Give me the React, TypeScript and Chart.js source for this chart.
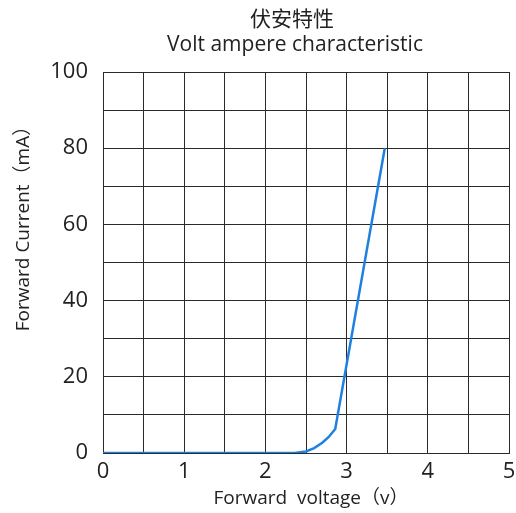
import React, { useEffect, useRef } from "react";
import { Chart, registerables } from "chart.js";

Chart.register(...registerables);

const titleLines = ["伏安特性", "Volt ampere characteristic"];
const xAxisTitle = "Forward  voltage（v）";
const yAxisTitle = "Forward Current（mA）";
const voltage = [0, 2.36, 2.5, 2.6, 2.7, 2.78, 2.86, 3.47];
const current = [0, 0, 0.4, 1.3, 2.7, 4.2, 6.3, 80];
const xTickValues = [0, 1, 2, 3, 4, 5];
const yTickValues = [0, 20, 40, 60, 80, 100];

const FONT = "'Open Sans', 'Noto Sans CJK SC', sans-serif";

const titlePlugin = {
  id: "textLabels",
  afterDraw(chart: any) {
    const ctx = chart.ctx;
    ctx.save();
    ctx.fillStyle = "#222";
    ctx.textAlign = "center";
    ctx.textBaseline = "middle";
    ctx.font = `21px 'Noto Sans CJK SC', sans-serif`;
    ctx.fillText(titleLines[0], 292, 18);
    ctx.font = `21px ${FONT}`;
    ctx.fillText(titleLines[1], 295, 45);
    ctx.font = `19px ${FONT}`;
    ctx.fillText(xAxisTitle, 311, 499);
    ctx.translate(24, 224);
    ctx.rotate(-Math.PI / 2);
    ctx.fillText(yAxisTitle, 0, 0);
    ctx.restore();
  },
};

export default function App() {
  const ref = useRef<HTMLCanvasElement | null>(null);
  useEffect(() => {
    document.body.style.margin = "0";
    const canvas = ref.current!;
    const chart = new Chart(canvas, {
      type: "line",
      data: {
        datasets: [
          {
            data: voltage.map((v, i) => ({ x: v, y: current[i] })),
            borderColor: "#1f80e0",
            borderWidth: 2.5,
            pointRadius: 0,
            tension: 0,
          },
        ],
      },
      options: {
        animation: false,
        responsive: false,
        devicePixelRatio: 1,
        layout: { padding: { top: 72, right: 7, left: 0, bottom: 0 } },
        plugins: { legend: { display: false }, tooltip: { enabled: false }, title: { display: false } },
        scales: {
          x: {
            type: "linear",
            min: 0,
            max: 5,
            afterBuildTicks: (axis: any) => {
              const t = [];
              for (let i = 0; i <= 10; i++) t.push({ value: i * 0.5 });
              axis.ticks = t;
            },
            afterFit: (axis: any) => {
              axis.height = 60;
              axis.paddingLeft = 0;
              axis.paddingRight = 0;
            },
            grid: { color: "#2a2a2a", lineWidth: 1, drawTicks: false },
            border: { color: "#2a2a2a", width: 1 },
            ticks: {
              autoSkip: false,
              maxRotation: 0,
              padding: 6,
              color: "#222",
              font: { family: FONT, size: 22 },
              callback: (v: any) => (xTickValues.includes(Number(v)) ? String(v) : ""),
            },
          },
          y: {
            min: 0,
            max: 100,
            afterBuildTicks: (axis: any) => {
              const t = [];
              for (let i = 0; i <= 10; i++) t.push({ value: i * 10 });
              axis.ticks = t;
            },
            afterFit: (axis: any) => {
              axis.width = 103;
              axis.paddingTop = 0;
              axis.paddingBottom = 0;
            },
            grid: { color: "#2a2a2a", lineWidth: 1, drawTicks: false },
            border: { color: "#2a2a2a", width: 1 },
            ticks: {
              autoSkip: false,
              padding: 15,
              color: "#222",
              font: { family: FONT, size: 22 },
              callback: (v: any) => (yTickValues.includes(Number(v)) ? String(v) : ""),
            },
          },
        },
      },
      plugins: [titlePlugin],
    } as any);
    return () => chart.destroy();
  }, []);
  return (
    <div style={{ width: 516, height: 513, background: "#fff" }}>
      <canvas ref={ref} width={516} height={513} />
    </div>
  );
}
